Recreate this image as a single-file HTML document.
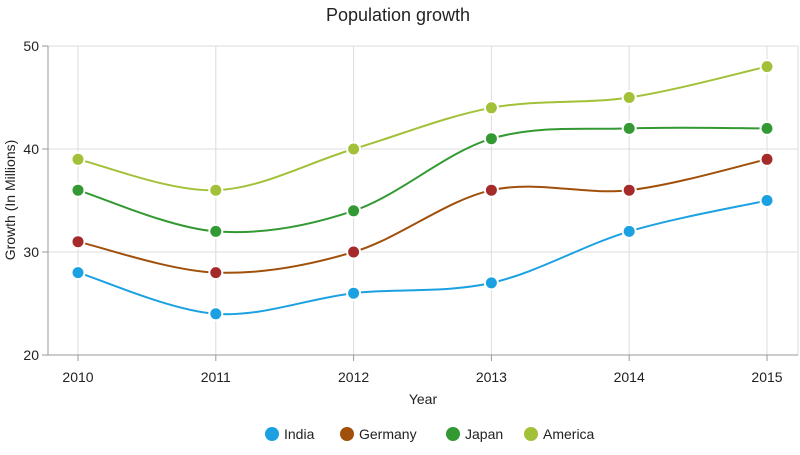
<!DOCTYPE html>
<html><head><meta charset="utf-8"><style>
body{margin:0;background:#fff;font-family:"Liberation Sans",sans-serif;}
svg text{font-family:"Liberation Sans",sans-serif;fill:#222;}
</style></head><body>
<svg id="chart" width="800" height="450" viewBox="0 0 800 450" xmlns="http://www.w3.org/2000/svg">
<text x="398" y="21" font-size="18" text-anchor="middle">Population growth</text>
<g id="grid"></g><g id="axes"></g><g id="series"></g>
<text transform="translate(15,200) rotate(-90)" font-size="14" text-anchor="middle">Growth (In Millions)</text>
<text x="423" y="404" font-size="14" text-anchor="middle">Year</text>
<g id="legend"></g>
</svg>
<script>
const categories=["2010","2011","2012","2013","2014","2015"];
const india=[28,24,26,27,32,35];
const germany=[31,28,30,36,36,39];
const japan=[36,32,34,41,42,42];
const america=[39,36,40,44,45,48];
const yTicks=[20,30,40,50];
const seriesNames=["India","Germany","Japan","America"];

const NS="http://www.w3.org/2000/svg";
const L=48,R=798,T=46,B=355,x0=78,x1=767;
const xs=i=>x0+(x1-x0)*i/(categories.length-1);
const ys=v=>B-(v-20)/(50-20)*(B-T);
function mk(t,a,p){const e=document.createElementNS(NS,t);for(const k in a)e.setAttribute(k,a[k]);p.appendChild(e);return e;}
const grid=document.getElementById('grid'),axes=document.getElementById('axes');
yTicks.forEach(v=>{
 const g=mk('line',{x1:L,x2:R,y1:ys(v),y2:ys(v),stroke:'#dcdcdc','stroke-width':1},grid);
 
 
 mk('line',{x1:L-6,x2:L,y1:ys(v),y2:ys(v),stroke:'#999'},axes);
 const t=mk('text',{x:L-9,y:ys(v)+5,'font-size':14,'text-anchor':'end'},axes);t.textContent=v;
 
 
});
categories.forEach((c,i)=>{
 const g=mk('line',{x1:xs(i),x2:xs(i),y1:T,y2:B,stroke:'#dcdcdc'},grid);
 
 
 mk('line',{x1:xs(i),x2:xs(i),y1:B,y2:B+6,stroke:'#999'},axes);
 const t=mk('text',{x:xs(i),y:B+27,'font-size':14,'text-anchor':'middle'},axes);t.textContent=c;
 
 
});
mk('line',{x1:R,x2:R,y1:T,y2:B,stroke:'#dcdcdc'},grid);
mk('line',{x1:L,x2:L,y1:T,y2:B,stroke:'#999'},axes);
mk('line',{x1:L,x2:R,y1:B,y2:B,stroke:'#999'},axes);
function spline(pts){let d=`M${pts[0][0]},${pts[0][1]}`;
 for(let i=0;i<pts.length-1;i++){const p0=pts[Math.max(i-1,0)],p1=pts[i],p2=pts[i+1],p3=pts[Math.min(i+2,pts.length-1)];
  const c1=[p1[0]+(p2[0]-p0[0])/6,p1[1]+(p2[1]-p0[1])/6],c2=[p2[0]-(p3[0]-p1[0])/6,p2[1]-(p3[1]-p1[1])/6];
  d+=` C${c1[0]},${c1[1]} ${c2[0]},${c2[1]} ${p2[0]},${p2[1]}`;}return d;}
const data=[india,germany,japan,america];
const lineCol=["#1ba1e2","#a0500a","#339933","#a2c139"];
const dotCol=["#1ba1e2","#a52a2a","#339933","#a2c139"];
const sg=document.getElementById('series');
data.forEach((arr,s)=>{
 const pts=arr.map((v,i)=>[xs(i),ys(v)]);
 const p=mk('path',{d:spline(pts),fill:'none',stroke:lineCol[s],'stroke-width':2},sg);
 
 
});
data.forEach((arr,s)=>{
 arr.forEach((v,i)=>{
  const c=mk('circle',{cx:xs(i),cy:ys(v),r:6.5,fill:dotCol[s],stroke:'#fff','stroke-width':2},sg);
  
  
 });
});
const lg=document.getElementById('legend');
const lx=[272,347,453,531];
seriesNames.forEach((n,s)=>{
 const g=mk('g',{},lg);
 
 
 mk('circle',{cx:lx[s],cy:434,r:7,fill:lineCol[s]},g);
 const t=mk('text',{x:lx[s]+12,y:439,'font-size':14},g);t.textContent=n;
});
</script>
</body></html>
